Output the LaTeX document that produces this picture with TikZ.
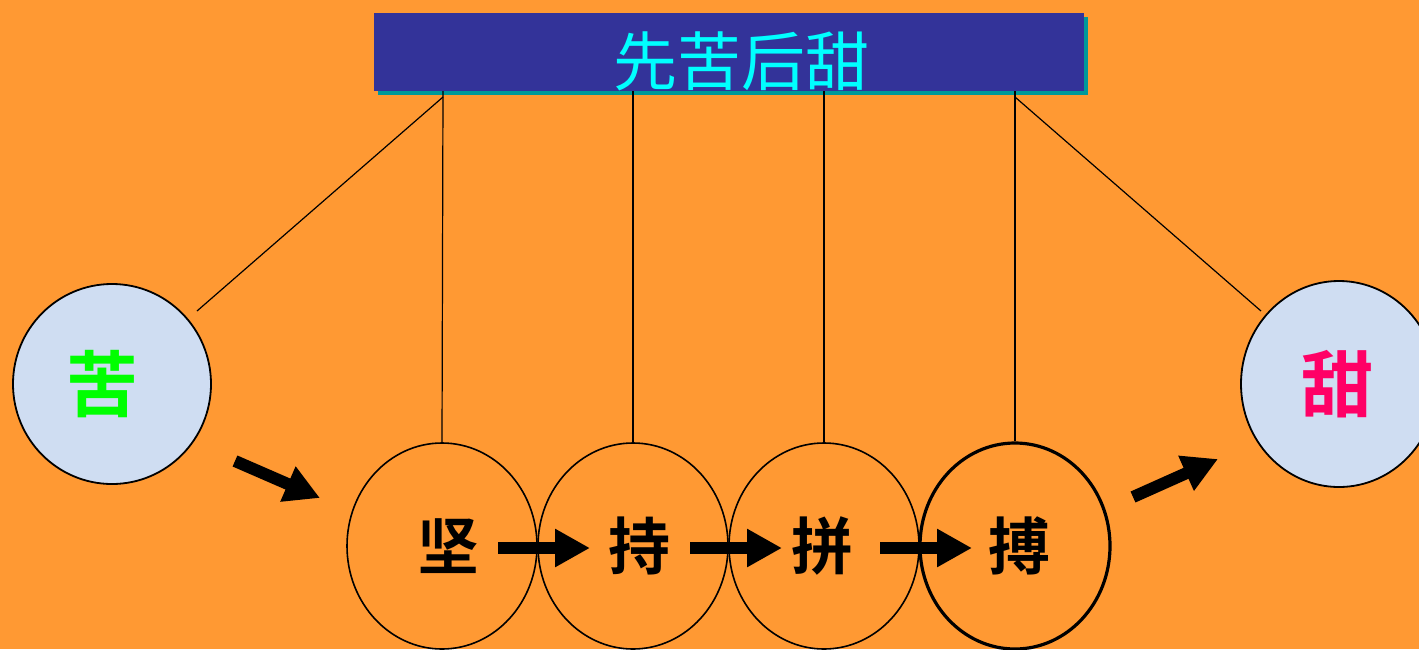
\documentclass[tikz,border=0pt]{standalone}
\usepackage{fontspec}
\newfontfamily\cjk{Noto Sans CJK SC}
\newfontfamily\cjkb{Noto Sans CJK SC Bold}
\usetikzlibrary{arrows.meta,shapes.geometric}
\definecolor{bg}{HTML}{FF9933}
\definecolor{boxblue}{HTML}{333399}
\definecolor{boxshadow}{HTML}{009999}
\definecolor{ballblue}{HTML}{CFDDF2}
\definecolor{sweet}{HTML}{FF0066}
\definecolor{titlecyan}{HTML}{00FFFF}
\definecolor{bitter}{HTML}{00FF00}
\begin{document}
\begin{tikzpicture}[x=0.5pt,y=-0.5pt,
  ball/.style={ellipse,draw=black,line width=0.8pt,minimum width=95pt,minimum height=103pt,inner sep=0pt,font=\cjkb\fontsize{31}{31}\selectfont},
  endball/.style={ellipse,draw=black,line width=0.9pt,fill=ballblue,inner sep=0pt,font=\cjkb\fontsize{36}{36}\selectfont},
  thread/.style={draw=black,line width=0.6pt},
  bigarrow/.style={draw=black,line width=6pt,-{Triangle[length=17.5pt,width=18pt]}}]
\useasboundingbox (0,0) rectangle (1419,649);
\clip (0,0) rectangle (1419,649);
\fill[bg] (0,0) rectangle (1419,649);
% title box with shadow
\fill[boxshadow] (378,17) rectangle (1088,95);
\node[fill=boxblue,minimum width=355pt,minimum height=39pt,inner sep=0pt] (title) at (729,52) {};
\node[inner sep=0pt,text=titlecyan,font=\cjk\fontsize{32}{32}\selectfont] (titletext) at (741,61) {先苦后甜};
% end balls
\node[endball,minimum width=99pt,minimum height=100pt,text=bitter] (ku) at (112,384) {\hspace*{-10pt}苦};
\node[endball,minimum width=98pt,minimum height=103pt,text=sweet] (tian) at (1339,384) {\hspace*{-2pt}甜};
% middle balls
\node[ball] (b1) at (442,546) {\hspace*{6pt}坚};
\node[ball] (b2) at (633,546) {\hspace*{6pt}持};
\node[ball] (b3) at (824,546) {\hspace*{-2pt}拼};
\node[ball,line width=1.6pt] (b4) at (1015,546) {\hspace*{4pt}搏};
% threads
\coordinate (t1) at (443,91);
\coordinate (t2) at (633,91);
\coordinate (t3) at (824,91);
\coordinate (t4) at (1015,91);
\coordinate (l1) at (443,97);
\coordinate (l2) at (197,311);
\coordinate (r1) at (1015,97);
\coordinate (r2) at (1261,311);
\draw[thread] (t1) -- (b1.north);
\draw[thread] (t2) -- (b2.north);
\draw[thread] (t3) -- (b3.north);
\draw[thread] (t4) -- (b4.north);
\draw[thread] (l1) -- (l2);
\draw[thread] (r1) -- (r2);
% arrows
\coordinate (a1s) at (498,548); \coordinate (a1e) at (590,548);
\coordinate (a2s) at (690,548); \coordinate (a2e) at (782,548);
\coordinate (a3s) at (880,548); \coordinate (a3e) at (972,548);
\coordinate (als) at (235,461); \coordinate (ale) at (320,498);
\coordinate (ars) at (1133,497); \coordinate (are) at (1218,459);
\draw[bigarrow] (a1s) -- (a1e);
\draw[bigarrow] (a2s) -- (a2e);
\draw[bigarrow] (a3s) -- (a3e);
\draw[bigarrow] (als) -- (ale);
\draw[bigarrow] (ars) -- (are);
\end{tikzpicture}
\end{document}
